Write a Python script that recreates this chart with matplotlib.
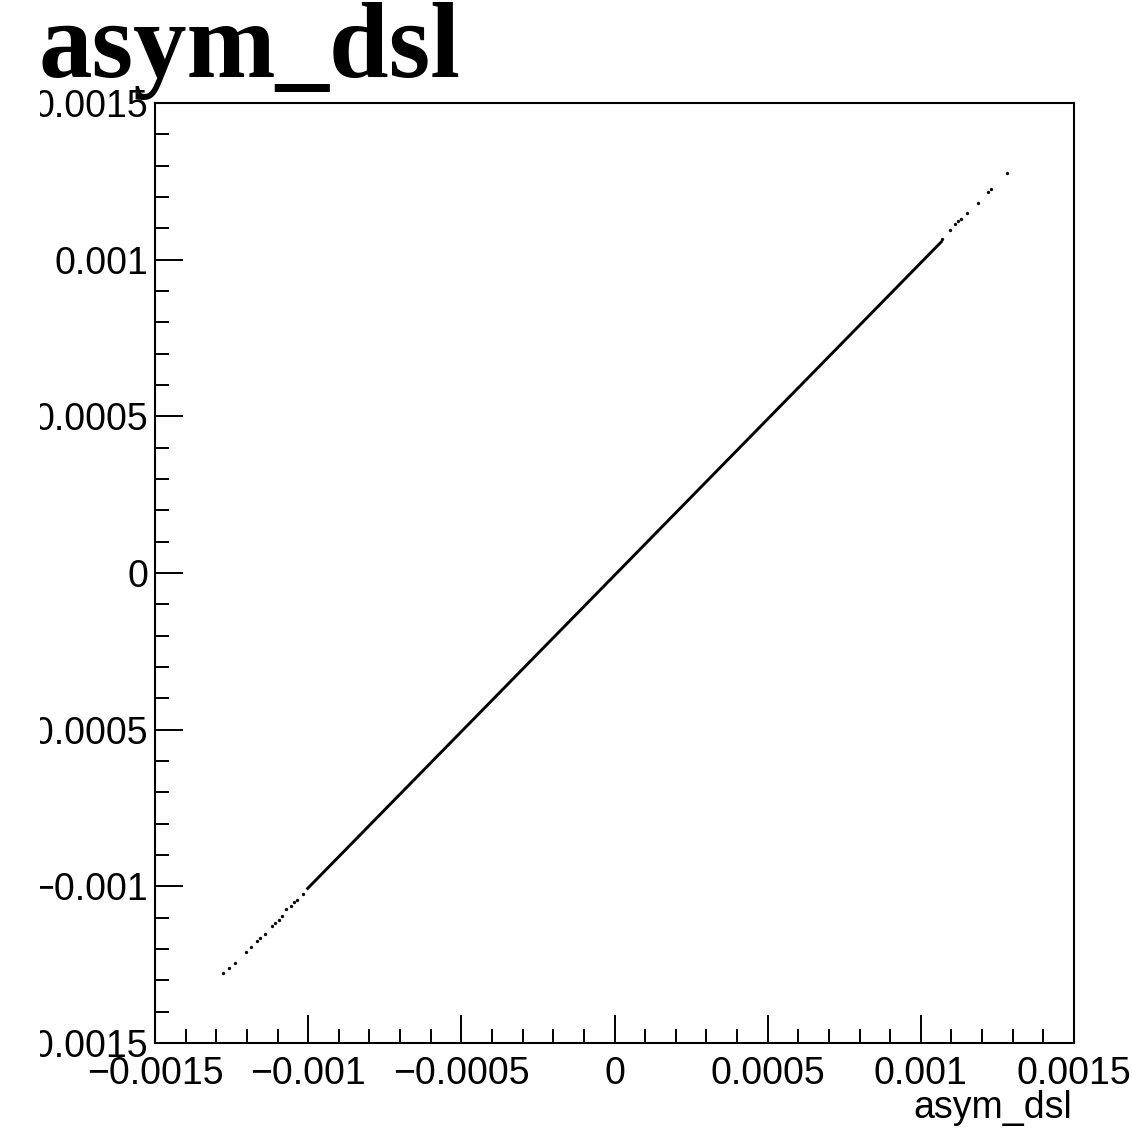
import numpy as np
import matplotlib
matplotlib.use("Agg")
from matplotlib import pyplot as plt
from matplotlib.patches import Rectangle
from matplotlib.ticker import MultipleLocator, FixedLocator, FixedFormatter

# sparse points at the two ends of the correlation line
low_x = [-0.001277, -0.001258, -0.001239, -0.001204, -0.001188, -0.001168, -0.001158,
         -0.001142, -0.001118, -0.001109, -0.001095, -0.001084, -0.001073, -0.001057,
         -0.001047, -0.001036, -0.001016]
low_y = [-0.001278, -0.001261, -0.001245, -0.001210, -0.001194, -0.001174, -0.001166,
         -0.001151, -0.001126, -0.001117, -0.001106, -0.001096, -0.001073, -0.001064,
         -0.001049, -0.001045, -0.001025]
high_x = [0.0012805, 0.0012303, 0.0012205, 0.001186, 0.001151, 0.0011325, 0.0011227,
          0.001112, 0.0010957, 0.0010705]
high_y = [0.0012756, 0.0012246, 0.001216, 0.0011818, 0.001148, 0.0011307, 0.0011234,
          0.0011129, 0.0010937, 0.001065]
# dense core of the scatter, drawn as a solid band
core_x = [-0.001005, 0.00107]
core_y = [-0.001010, 0.00106]

major_ticks = [-0.0015, -0.001, -0.0005, 0, 0.0005, 0.001, 0.0015]
tick_labels = ["\u22120.0015", "\u22120.001", "\u22120.0005", "0", "0.0005", "0.001", "0.0015"]

W, H = 1132, 1137
fig = plt.figure(figsize=(W / 100, H / 100), dpi=100)
fig.patch.set_facecolor("white")

left, right, top, bottom = 155, 1074, 103, 1043
ax = fig.add_axes([left / W, 1 - bottom / H, (right - left) / W, (bottom - top) / H])

ax.plot(core_x, core_y, color="black", lw=2.1, solid_capstyle="butt")
ax.plot(low_x, low_y, ls="none", marker="o", ms=2.4, mfc="black", mec="black", mew=0)
ax.plot(high_x, high_y, ls="none", marker="o", ms=2.4, mfc="black", mec="black", mew=0)

ax.set_xlim(-0.0015, 0.0015)
ax.set_ylim(-0.0015, 0.0015)

for axis in (ax.xaxis, ax.yaxis):
    axis.set_major_locator(FixedLocator(major_ticks))
    axis.set_major_formatter(FixedFormatter(tick_labels))
    axis.set_minor_locator(MultipleLocator(0.0001))

for s in ax.spines.values():
    s.set_linewidth(1.5)

ax.tick_params(which="both", direction="in", top=False, right=False, width=1.4,
               labelsize=27, labelfontfamily="Liberation Sans")
ax.tick_params(which="major", length=20)
ax.tick_params(which="minor", length=10)
ax.tick_params(axis="x", pad=9)
ax.tick_params(axis="y", pad=5)

fig.text(1072 / W, 1 - 1118 / H, "asym_dsl", ha="right", va="baseline",
         fontsize=27, family="Liberation Sans")
fig.text(39 / W, 1 - 77 / H, "asym_dsl", ha="left", va="baseline",
         fontsize=77, family="Liberation Serif", weight="bold")

# the original canvas is cut off at the left edge
fig.add_artist(Rectangle((0, 0), 40 / W, 1 - 88 / H, transform=fig.transFigure,
                         facecolor="white", edgecolor="none", zorder=20))

fig.savefig("out.png", dpi=100)
